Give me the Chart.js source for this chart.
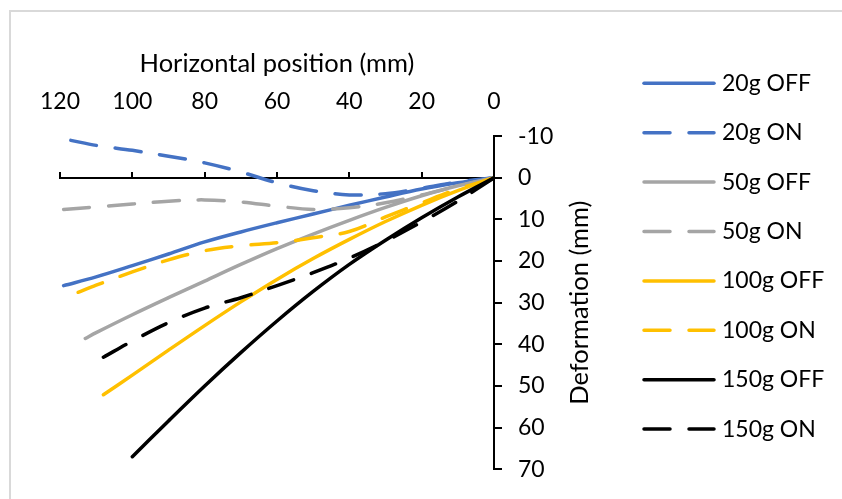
<!DOCTYPE html>
<html>
<head>
<meta charset="utf-8">
<script src="https://cdn.jsdelivr.net/npm/chart.js@4.4.0/dist/chart.umd.min.js"></script>
<style>
  body { margin: 0; background: #fff; overflow: hidden; }
  #wrap { position: relative; width: 842px; height: 499px; overflow: hidden; }
  #frame { position: absolute; left: 9px; top: 10px; width: 900px; height: 600px; border: 2px solid #d9d9d9; }
  #deformChart { position: absolute; left: 0; top: 0; }
</style>
</head>
<body>
<div id="wrap">
  <div id="frame"></div>
  <canvas id="deformChart" width="842" height="499"></canvas>
</div>
<script>
// Horizontal position (mm) and deformation (mm)
const pos20Off = [119, 110, 100, 90, 80, 70, 60, 50, 40, 30, 20, 10, 0];
const def20Off = [25.9, 23.8, 21.1, 18.3, 15.4, 13.0, 10.8, 8.7, 6.6, 4.6, 2.7, 1.2, 0];
const pos20On = [117, 110, 100, 90, 80, 70, 60, 50, 40, 30, 20, 10, 0];
const def20On = [-9.0, -7.8, -6.6, -5.2, -3.6, -1.4, 1.2, 3.1, 4.1, 3.8, 2.5, 1.0, 0];
const pos50Off = [113, 110, 100, 90, 80, 70, 60, 50, 40, 30, 20, 10, 0];
const def50Off = [38.6, 37.2, 32.9, 28.8, 24.8, 20.8, 17.0, 13.5, 10.2, 7.1, 4.3, 1.9, 0];
const pos50On = [119, 110, 100, 90, 80, 70, 60, 50, 40, 30, 20, 10, 0];
const def50On = [7.6, 7.0, 6.3, 5.6, 5.3, 5.8, 6.8, 7.6, 7.2, 6.0, 4.1, 2.0, 0];
const pos100Off = [108, 100, 90, 80, 70, 60, 50, 40, 30, 20, 10, 0];
const def100Off = [52.1, 47.4, 41.4, 35.5, 29.8, 24.4, 19.4, 14.8, 10.5, 6.6, 3.1, 0];
const pos100On = [115, 110, 100, 90, 80, 70, 60, 50, 40, 30, 20, 10, 0];
const def100On = [27.5, 25.8, 22.6, 19.7, 17.5, 16.3, 15.6, 14.4, 12.9, 9.4, 6.0, 2.7, 0];
const pos150Off = [100, 90, 80, 70, 60, 50, 40, 30, 20, 10, 0];
const def150Off = [67.0, 58.4, 50.0, 42.0, 34.4, 27.3, 20.8, 15.0, 9.6, 4.6, 0];
const pos150On = [108, 100, 90, 80, 70, 60, 50, 40, 30, 20, 10, 0];
const def150On = [43.1, 39.2, 34.8, 31.3, 28.8, 25.9, 22.8, 19.3, 15.2, 10.6, 5.6, 0];

const seriesNames = ['20g OFF', '20g ON', '50g OFF', '50g ON', '100g OFF', '100g ON', '150g OFF', '150g ON'];
const seriesPos = [pos20Off, pos20On, pos50Off, pos50On, pos100Off, pos100On, pos150Off, pos150On];
const seriesDef = [def20Off, def20On, def50Off, def50On, def100Off, def100On, def150Off, def150On];
const seriesColors = ['#4472C4', '#4472C4', '#A5A5A5', '#A5A5A5', '#FFC000', '#FFC000', '#000000', '#000000'];

Chart.defaults.font.family = 'Lato';
Chart.defaults.font.size = 23;
Chart.defaults.color = '#000';

const datasets = seriesNames.map((name, i) => ({
  label: name,
  data: seriesPos[i].map((x, j) => ({ x: x, y: seriesDef[i][j] })),
  borderColor: seriesColors[i],
  backgroundColor: seriesColors[i],
  borderWidth: 3.5,
  borderDash: i % 2 === 1 ? [26, 19] : [],
  borderCapStyle: 'round',
  showLine: true,
  pointRadius: 0,
  tension: 0.35,
  order: seriesNames.length - i
}));

// y axis title reads bottom-to-top on the right side
const yTitlePlugin = {
  id: 'yTitle',
  afterDraw(chart) {
    const s = chart.scales.y;
    const ctx = chart.ctx;
    ctx.save();
    ctx.translate(s.left + 86, (s.top + s.bottom) / 2);
    ctx.rotate(-Math.PI / 2);
    ctx.font = '25.5px Lato';
    ctx.fillStyle = '#000';
    ctx.textAlign = 'center';
    ctx.textBaseline = 'middle';
    ctx.fillText('Deformation (mm)', 0, 0);
    ctx.restore();
  }
};

// legend drawn as long line samples like the original
const sideLegend = {
  id: 'sideLegend',
  afterDraw(chart, args, opts) {
    const ctx = chart.ctx;
    chart.data.datasets.forEach((ds, i) => {
      const y = opts.top + i * opts.rowGap;
      ctx.save();
      ctx.strokeStyle = ds.borderColor;
      ctx.lineWidth = ds.borderWidth;
      ctx.lineCap = 'round';
      ctx.setLineDash(ds.borderDash);
      ctx.beginPath();
      ctx.moveTo(opts.left, y);
      ctx.lineTo(opts.left + opts.lineLength, y);
      ctx.stroke();
      ctx.setLineDash([]);
      ctx.fillStyle = '#000';
      ctx.font = '23px Lato';
      ctx.textBaseline = 'middle';
      ctx.fillText(ds.label, opts.left + opts.lineLength + opts.gap, y);
      ctx.restore();
    });
  }
};

new Chart(document.getElementById('deformChart'), {
  type: 'scatter',
  data: { datasets: datasets },
  plugins: [yTitlePlugin, sideLegend],
  options: {
    responsive: false,
    animation: false,
    layout: { padding: { left: 60, top: 45, right: 228, bottom: 27 } },
    scales: {
      x: {
        type: 'linear',
        position: 'top',
        reverse: true,
        min: 0,
        max: 120,
        border: { display: false },
        grid: { display: false, drawTicks: false },
        ticks: { stepSize: 20, padding: 21 },
        title: { display: true, text: 'Horizontal position (mm)', font: { size: 25.5 }, padding: { top: 3, bottom: -12 } }
      },
      xb: {
        type: 'linear',
        axis: 'x',
        position: { y: 0 },
        reverse: true,
        min: 0,
        max: 120,
        border: { display: true, color: '#000', width: 2 },
        grid: { display: true, drawOnChartArea: false, drawTicks: true, tickLength: -7, color: '#000', lineWidth: 2 },
        ticks: { display: false, stepSize: 20 }
      },
      y: {
        type: 'linear',
        position: 'right',
        reverse: true,
        min: -10,
        max: 70,
        border: { display: true, color: '#000', width: 2 },
        grid: { drawOnChartArea: false, tickLength: 8, color: '#000', lineWidth: 2 },
        ticks: { stepSize: 10, padding: 16 },
        afterFit(scale) { scale.width = 120; }
      }
    },
    plugins: {
      legend: { display: false },
      tooltip: { enabled: false },
      sideLegend: { left: 644, top: 83.3, rowGap: 49.4, lineLength: 70, gap: 8 }
    }
  }
});
</script>
</body>
</html>
